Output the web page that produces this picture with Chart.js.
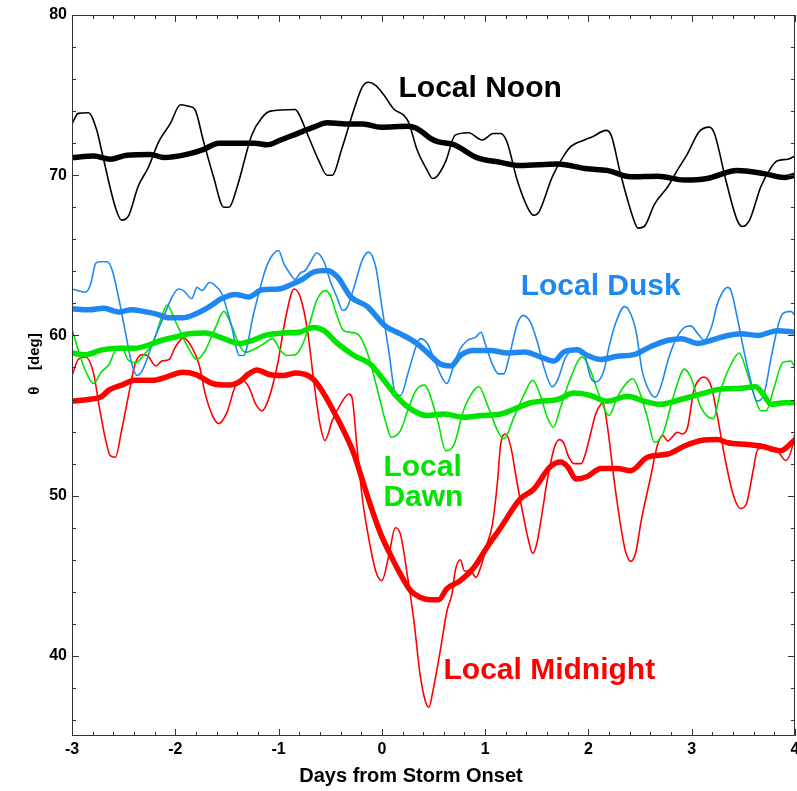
<!DOCTYPE html>
<html>
<head>
<meta charset="utf-8">
<script src="https://cdn.jsdelivr.net/npm/chart.js@4.4.1/dist/chart.umd.min.js"></script>
<style>
  html, body { margin: 0; padding: 0; background: #fff; }
  canvas { display: block; }
</style>
</head>
<body>
<canvas id="c" width="797" height="791"></canvas>
<script>
// Axis ranges and tick labels
const X_MIN = -3, X_MAX = 4;
const Y_MIN = 35, Y_MAX = 80;
const X_TICKS = [-3, -2, -1, 0, 1, 2, 3, 4];
const Y_TICKS = [40, 50, 60, 70, 80];

// Local Noon: hourly-resolved latitude (thin) and running mean (thick)
const noonThinDay = [-3.0,-2.94,-2.84,-2.76,-2.70,-2.58,-2.52,-2.45,-2.36,-2.26,-2.16,-2.05,-1.95,-1.87,-1.81,-1.73,-1.63,-1.53,-1.48,-1.40,-1.26,-1.16,-1.08,-0.84,-0.81,-0.71,-0.61,-0.53,-0.48,-0.39,-0.27,-0.19,-0.13,-0.06,0.02,0.12,0.21,0.26,0.34,0.44,0.49,0.53,0.62,0.71,0.84,0.97,1.08,1.15,1.21,1.31,1.41,1.47,1.52,1.65,1.75,1.83,1.96,2.04,2.17,2.22,2.31,2.44,2.48,2.54,2.64,2.77,2.86,2.96,3.07,3.17,3.22,3.33,3.44,3.49,3.56,3.67,3.77,3.83,3.93,4.0];
const noonThinDeg = [73.2,73.86,73.9,72.8,71.15,68.0,67.2,67.5,69.3,70.5,72.1,73.2,74.4,74.3,74.1,72.2,69.9,68.0,68.0,69.3,72.5,73.6,74.0,74.1,73.9,72.4,70.9,70.0,70.0,71.6,74.1,75.5,75.8,75.6,75.0,74.1,73.75,73.3,71.6,70.3,69.8,69.9,70.9,72.5,72.65,72.2,72.6,72.6,72.1,69.7,68.0,67.5,67.7,69.9,71.1,71.8,72.2,72.4,72.8,72.5,70.1,67.2,66.7,66.8,68.2,69.3,70.3,71.35,72.7,73.0,72.6,69.7,67.2,66.8,67.2,69.3,70.5,70.9,71.0,71.2];
const noonMeanDay = [-3.0,-2.79,-2.63,-2.47,-2.24,-2.11,-1.89,-1.73,-1.58,-1.37,-1.23,-1.11,-0.98,-0.82,-0.66,-0.53,-0.30,-0.18,-0.01,0.25,0.33,0.40,0.47,0.54,0.70,0.92,1.15,1.34,1.70,1.99,2.18,2.41,2.67,2.93,3.15,3.44,3.70,3.90,4.0];
const noonMeanDeg = [71.1,71.2,71.0,71.25,71.3,71.1,71.3,71.6,72.0,72.0,72.0,71.9,72.2,72.6,73.0,73.27,73.2,73.2,73.0,73.06,72.95,72.65,72.3,72.1,71.9,71.1,70.8,70.6,70.7,70.4,70.3,69.9,69.94,69.7,69.8,70.3,70.1,69.86,70.0];

// Local Dusk
const duskThinDay = [-3.0,-2.87,-2.82,-2.77,-2.73,-2.66,-2.61,-2.55,-2.48,-2.42,-2.37,-2.32,-2.22,-2.13,-2.03,-1.97,-1.92,-1.84,-1.79,-1.74,-1.67,-1.63,-1.55,-1.46,-1.38,-1.34,-1.24,-1.13,-1.06,-1.0,-0.95,-0.90,-0.84,-0.79,-0.74,-0.69,-0.63,-0.56,-0.50,-0.43,-0.38,-0.34,-0.27,-0.19,-0.13,-0.06,0.0,0.07,0.13,0.18,0.26,0.33,0.37,0.44,0.52,0.58,0.63,0.68,0.75,0.83,0.91,0.96,1.0,1.07,1.13,1.18,1.23,1.31,1.37,1.44,1.51,1.57,1.65,1.70,1.78,1.84,1.91,1.97,2.02,2.07,2.15,2.20,2.26,2.35,2.39,2.46,2.52,2.60,2.65,2.70,2.78,2.85,2.93,2.99,3.06,3.12,3.19,3.25,3.35,3.38,3.44,3.51,3.57,3.63,3.70,3.77,3.84,3.88,3.96,4.0];
const duskThinDeg = [62.9,62.7,63.2,64.5,64.6,64.6,64.06,62.4,60.1,58.2,57.5,57.8,59.5,60.9,62.4,62.9,62.8,62.3,63.0,62.8,63.3,63.2,62.6,60.7,58.75,58.75,61.4,64.06,65.0,65.3,64.5,63.96,63.5,63.9,64.06,64.6,65.15,64.6,63.4,62.3,61.56,61.7,63.0,64.7,65.2,64.3,61.8,58.9,56.4,56.25,57.8,59.3,59.8,59.5,58.3,57.4,57.0,57.8,59.06,59.7,59.9,60.2,59.5,58.2,57.6,57.6,58.6,60.7,61.25,60.8,59.5,58.0,56.8,57.2,58.65,59.1,59.2,58.65,57.4,57.1,57.8,59.3,60.7,61.8,61.6,60.3,57.8,56.4,56.15,56.8,58.65,59.8,60.5,60.6,60.1,59.7,60.5,62.0,63.0,62.8,61.15,58.9,57.2,55.9,56.35,58.65,60.7,61.35,61.5,61.25];
const duskMeanDay = [-3.0,-2.84,-2.69,-2.55,-2.42,-2.31,-2.19,-2.06,-1.93,-1.80,-1.67,-1.55,-1.42,-1.29,-1.16,-1.0,-0.87,-0.77,-0.66,-0.53,-0.43,-0.30,-0.14,0.03,0.18,0.34,0.47,0.57,0.67,0.76,0.89,1.05,1.22,1.38,1.54,1.67,1.76,1.89,1.99,2.12,2.28,2.44,2.60,2.77,2.90,3.06,3.19,3.35,3.48,3.64,3.83,4.0];
const duskMeanDeg = [61.67,61.6,61.7,61.46,61.6,61.5,61.35,61.1,61.1,61.35,61.8,62.3,62.56,62.4,62.85,62.9,63.2,63.5,63.96,64.06,63.65,62.4,61.8,60.6,60.1,59.5,58.75,58.2,58.1,58.75,59.06,59.06,58.9,58.96,58.65,58.4,58.96,59.1,58.75,58.5,58.7,58.8,59.3,59.7,59.8,59.5,59.7,60.0,60.1,60.0,60.3,60.2];

// Local Dawn
const dawnThinDay = [-3.0,-2.95,-2.87,-2.79,-2.72,-2.64,-2.57,-2.52,-2.46,-2.38,-2.31,-2.22,-2.14,-2.08,-2.0,-1.88,-1.79,-1.71,-1.61,-1.53,-1.46,-1.38,-1.32,-1.22,-1.14,-1.06,-0.98,-0.92,-0.84,-0.77,-0.71,-0.63,-0.55,-0.50,-0.43,-0.37,-0.24,-0.14,-0.05,0.05,0.09,0.18,0.26,0.33,0.41,0.45,0.54,0.62,0.70,0.79,0.89,0.94,1.02,1.12,1.18,1.28,1.38,1.46,1.54,1.60,1.66,1.73,1.83,1.94,2.02,2.10,2.20,2.28,2.38,2.43,2.49,2.57,2.64,2.72,2.83,2.93,2.99,3.09,3.21,3.28,3.38,3.46,3.53,3.61,3.67,3.72,3.80,3.88,3.96,4.0];
const dawnThinDeg = [60.4,59.3,57.8,57.0,57.7,58.2,59.2,59.3,58.5,58.3,58.75,59.5,61.0,61.9,60.9,59.3,58.5,59.06,60.5,61.5,60.7,59.4,58.95,59.2,59.5,59.8,59.06,58.75,58.8,59.4,60.5,62.2,62.8,62.5,61.15,60.3,60.1,58.9,56.8,54.3,53.65,54.06,55.5,56.56,56.9,56.56,54.7,52.8,53.2,55.3,56.56,56.8,55.7,54.06,53.55,54.9,56.35,57.2,56.15,54.9,54.27,55.5,57.4,58.65,57.8,56.35,55.0,56.15,57.1,57.3,56.56,54.9,53.33,53.85,56.35,57.9,57.4,55.5,54.8,56.56,58.2,58.9,57.8,56.15,55.3,55.3,56.8,58.3,58.4,58.0];
const dawnMeanDay = [-3.0,-2.87,-2.71,-2.55,-2.39,-2.26,-2.13,-2.0,-1.87,-1.71,-1.55,-1.38,-1.25,-1.13,-0.96,-0.80,-0.66,-0.56,-0.43,-0.27,-0.11,0.02,0.15,0.28,0.44,0.60,0.79,0.96,1.15,1.28,1.44,1.54,1.70,1.86,2.02,2.18,2.38,2.54,2.70,2.89,3.09,3.28,3.48,3.62,3.69,3.77,3.90,4.0];
const dawnMeanDeg = [58.9,58.8,59.1,59.2,59.2,59.4,59.7,59.9,60.1,60.15,59.85,59.5,59.7,60.0,60.15,60.2,60.5,60.3,59.5,58.75,58.2,57.2,56.15,55.4,55.0,55.1,54.9,55.0,55.1,55.4,55.8,55.9,56.0,56.4,56.25,55.9,56.2,55.9,55.7,56.0,56.35,56.65,56.7,56.8,56.35,55.7,55.8,55.8];

// Local Midnight
const midThinDay = [-3.0,-2.94,-2.87,-2.79,-2.74,-2.68,-2.63,-2.58,-2.52,-2.45,-2.39,-2.32,-2.27,-2.19,-2.13,-2.06,-2.0,-1.92,-1.84,-1.77,-1.71,-1.64,-1.58,-1.50,-1.42,-1.35,-1.29,-1.22,-1.16,-1.09,-1.01,-0.93,-0.85,-0.79,-0.72,-0.66,-0.60,-0.55,-0.48,-0.40,-0.32,-0.29,-0.24,-0.19,-0.14,-0.06,0.0,0.07,0.13,0.18,0.25,0.31,0.37,0.42,0.455,0.50,0.57,0.63,0.68,0.71,0.76,0.80,0.86,0.91,0.96,1.02,1.07,1.12,1.15,1.20,1.25,1.30,1.36,1.42,1.46,1.50,1.55,1.60,1.67,1.72,1.76,1.81,1.86,1.93,1.97,2.02,2.07,2.12,2.14,2.18,2.25,2.31,2.36,2.41,2.46,2.51,2.60,2.67,2.72,2.77,2.81,2.86,2.91,2.96,3.02,3.08,3.12,3.19,3.25,3.32,3.40,3.47,3.53,3.59,3.64,3.74,3.83,3.91,3.98,4.0];
const midThinDeg = [57.5,58.5,58.65,57.6,55.7,53.65,52.5,52.4,54.06,56.35,58.2,58.8,58.75,58.1,58.4,58.5,59.27,59.85,59.27,58.2,56.35,55.0,54.5,55.2,56.8,57.2,56.8,55.7,55.3,56.15,58.2,61.15,62.9,62.4,60.3,57.2,54.5,53.45,54.7,55.7,56.35,56.15,53.0,49.9,47.8,45.3,44.7,46.35,48.0,47.6,44.9,42.2,38.85,37.2,36.8,38.0,40.5,42.8,43.9,45.3,46.0,45.3,45.3,44.9,45.6,47.0,48.2,50.9,53.2,53.85,53.0,51.15,49.06,47.2,46.4,47.0,48.85,50.9,53.0,53.5,53.3,52.4,52.0,52.0,52.6,53.85,55.1,55.7,55.8,54.5,50.9,48.2,46.5,45.9,46.5,48.4,51.1,53.2,53.75,53.4,53.65,53.96,53.85,54.27,56.56,57.3,57.4,56.8,54.9,52.4,50.1,49.2,49.5,51.4,52.9,53.0,52.8,52.2,53.2,53.96];
const midMeanDay = [-3.0,-2.84,-2.71,-2.64,-2.52,-2.39,-2.22,-2.09,-1.93,-1.80,-1.64,-1.48,-1.38,-1.29,-1.21,-1.09,-0.96,-0.83,-0.67,-0.56,-0.47,-0.37,-0.27,-0.19,-0.11,-0.01,0.08,0.18,0.28,0.375,0.47,0.55,0.63,0.76,0.89,1.02,1.15,1.34,1.47,1.63,1.73,1.80,1.88,1.99,2.12,2.28,2.41,2.57,2.77,2.93,3.09,3.25,3.35,3.54,3.67,3.86,4.0];
const midMeanDeg = [55.9,56.0,56.2,56.6,56.9,57.2,57.2,57.4,57.7,57.56,57.0,56.9,57.1,57.6,57.85,57.56,57.5,57.65,57.3,56.35,55.3,54.06,52.6,51.0,49.4,47.6,46.35,45.1,44.06,43.65,43.5,43.5,44.2,44.7,45.5,46.8,48.0,49.8,50.4,51.8,52.1,51.8,51.04,51.2,51.7,51.7,51.56,52.4,52.6,53.1,53.44,53.5,53.3,53.2,53.1,52.8,53.5];

// Series labels written inside the plot, anchored in data coordinates (day, deg at baseline)
const LABELS = [
  { lines: ['Local Noon'], day: 0.161, deg: 74.875, color: '#000000' },
  { lines: ['Local Dusk'], day: 1.344, deg: 62.5, color: '#1E88F0' },
  { lines: ['Local', 'Dawn'], day: 0.015, deg: 51.25, color: '#00E400' },
  { lines: ['Local Midnight'], day: 0.597, deg: 38.56, color: '#FF0000' }
];

const COLORS = { noon: '#000000', dusk: '#1E88F0', dawn: '#00E400', mid: '#FF0000' };
const FONT = "'Liberation Sans', Arial, Helvetica, sans-serif";

function pts(days, degs) {
  return days.map((d, i) => ({ x: d, y: degs[i] }));
}

function series(days, degs, color, thick) {
  return {
    data: pts(days, degs),
    borderColor: color,
    borderWidth: thick ? 5.5 : 1.6,
    pointRadius: 0,
    fill: false,
    cubicInterpolationMode: 'monotone',
    borderJoinStyle: 'round',
    borderCapStyle: 'round',
    order: thick ? 0 : 1
  };
}

// Box frame with inward major/minor tick marks on all four sides
const framePlugin = {
  id: 'frame',
  afterDraw(chart) {
    const { ctx, chartArea: a, scales: { x, y } } = chart;
    ctx.save();
    ctx.strokeStyle = '#333';
    ctx.lineWidth = 1;
    ctx.beginPath();
    ctx.rect(Math.round(a.left) + 0.5, Math.round(a.top) + 0.5,
             Math.round(a.right - a.left) - 1, Math.round(a.bottom - a.top) - 1);
    ctx.stroke();
    ctx.beginPath();
    const nx = Math.round((X_MAX - X_MIN) / 0.2);
    for (let i = 0; i <= nx; i++) {
      const v = X_MIN + i * 0.2;
      const major = i % 5 === 0;
      const len = major ? 7 : 4;
      const px = Math.round(x.getPixelForValue(v)) + 0.5;
      ctx.moveTo(px, a.bottom); ctx.lineTo(px, a.bottom - len);
      ctx.moveTo(px, a.top); ctx.lineTo(px, a.top + len);
    }
    for (let v = 36; v <= Y_MAX; v += 2) {
      const major = v % 10 === 0;
      const len = major ? 7 : 4;
      const py = Math.round(y.getPixelForValue(v)) + 0.5;
      ctx.moveTo(a.left, py); ctx.lineTo(a.left + len, py);
      ctx.moveTo(a.right, py); ctx.lineTo(a.right - len, py);
    }
    ctx.stroke();
    ctx.restore();
  }
};

// Series names and the axis titles
const textPlugin = {
  id: 'texts',
  afterDatasetsDraw(chart) {
    const { ctx, chartArea: a, scales: { x, y } } = chart;
    ctx.save();
    ctx.font = 'bold 30px ' + FONT;
    ctx.textAlign = 'left';
    ctx.textBaseline = 'alphabetic';
    LABELS.forEach(l => {
      const px = x.getPixelForValue(l.day);
      const py = y.getPixelForValue(l.deg);
      ctx.fillStyle = l.color;
      l.lines.forEach((t, i) => ctx.fillText(t, px, py + i * 30));
    });
    ctx.restore();

    // x-axis title
    ctx.save();
    ctx.font = 'bold 20px ' + FONT;
    ctx.fillStyle = '#000';
    ctx.textAlign = 'center';
    ctx.textBaseline = 'middle';
    ctx.fillText('Days from Storm Onset', a.left + 339, a.bottom + 40);
    ctx.restore();

    // y-axis title, reading bottom to top
    ctx.save();
    ctx.translate(35, 364);
    ctx.rotate(-Math.PI / 2);
    ctx.font = 'bold 15px ' + FONT;
    ctx.fillStyle = '#000';
    ctx.textAlign = 'center';
    ctx.textBaseline = 'middle';
    ctx.fillText('\u03B8    [deg]', 0, 0);
    ctx.restore();
  }
};

new Chart(document.getElementById('c'), {
  type: 'line',
  data: {
    datasets: [
      series(noonThinDay, noonThinDeg, COLORS.noon, false),
      series(duskThinDay, duskThinDeg, COLORS.dusk, false),
      series(dawnThinDay, dawnThinDeg, COLORS.dawn, false),
      series(midThinDay, midThinDeg, COLORS.mid, false),
      series(noonMeanDay, noonMeanDeg, COLORS.noon, true),
      series(duskMeanDay, duskMeanDeg, COLORS.dusk, true),
      series(dawnMeanDay, dawnMeanDeg, COLORS.dawn, true),
      series(midMeanDay, midMeanDeg, COLORS.mid, true)
    ]
  },
  options: {
    responsive: false,
    animation: false,
    devicePixelRatio: 1,
    layout: { padding: { top: 15, right: 2, left: 0, bottom: 0 } },
    plugins: { legend: { display: false }, tooltip: { enabled: false } },
    scales: {
      x: {
        type: 'linear',
        min: X_MIN, max: X_MAX,
        grid: { display: false, drawTicks: false },
        border: { display: false },
        afterBuildTicks: s => { s.ticks = X_TICKS.map(v => ({ value: v })); },
        afterFit: s => { s.height = 55; s.paddingLeft = 0; s.paddingRight = 0; },
        ticks: {
          padding: 4,
          color: '#000',
          font: { family: FONT, size: 16, weight: 'bold' },
          maxRotation: 0,
          callback: v => String(v)
        }
      },
      y: {
        type: 'linear',
        min: Y_MIN, max: Y_MAX,
        grid: { display: false, drawTicks: false },
        border: { display: false },
        afterBuildTicks: s => { s.ticks = Y_TICKS.map(v => ({ value: v })); },
        afterFit: s => { s.width = 72; s.paddingTop = 0; s.paddingBottom = 0; },
        ticks: {
          padding: 5,
          color: '#000',
          font: { family: FONT, size: 16, weight: 'bold' },
          callback: v => String(v)
        }
      }
    }
  },
  plugins: [framePlugin, textPlugin]
});
</script>
</body>
</html>
